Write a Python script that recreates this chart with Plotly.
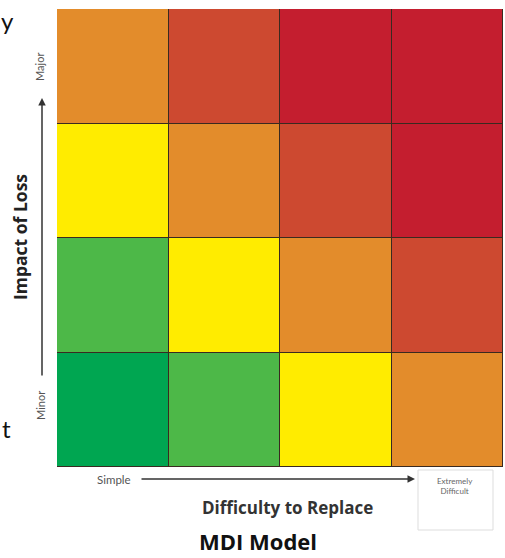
import plotly.graph_objects as go

# Data
difficulty = ["Simple", "Moderate", "Hard", "Extremely Difficult"]
impact = ["Minor", "Low", "High", "Major"]
# risk level per cell, rows bottom (Minor) -> top (Major)
risk = [
    [1, 2, 3, 4],
    [2, 3, 4, 5],
    [3, 4, 5, 6],
    [4, 5, 6, 6],
]
level_colors = ["#00A651", "#4DB848", "#FFEC00", "#E38C2B", "#CD4930", "#C41E2F"]

W, H = 505, 558
L, R, T, B = 57, 2, 9, 91
PW, PH = W - L - R, H - T - B

def px(x):
    return (x - L) / PW

def py(y):
    return (H - B - y) / PH

n = len(level_colors)
colorscale = []
for i, c in enumerate(level_colors):
    colorscale.append([i / n, c])
    colorscale.append([(i + 1) / n, c])

fig = go.Figure(go.Heatmap(
    z=risk, x=difficulty, y=impact,
    zmin=0.5, zmax=n + 0.5,
    colorscale=colorscale, showscale=False,
    xgap=1, ygap=1, hoverinfo="skip",
))

ann = []
gray = "#555555"
font = "Lato"
bfont = "Open Sans"
# vertical axis labels
ann.append(dict(x=px(40), y=py(67), text="Major", textangle=-90, showarrow=False,
                font=dict(size=11, color=gray, family=font)))
ann.append(dict(x=px(40), y=py(406), text="Minor", textangle=-90, showarrow=False,
                font=dict(size=11, color=gray, family=font)))
ann.append(dict(x=px(20), y=py(237), text="<b>Impact of Loss</b>", textangle=-90, showarrow=False,
                font=dict(size=17.5, color="#222222", family=bfont)))
ann.append(dict(x=px(42), y=py(98), text="", showarrow=True, arrowhead=2, arrowsize=1,
                arrowwidth=1.5, arrowcolor="#333333", ax=0, ay=279))
# horizontal axis labels
ann.append(dict(x=px(114), y=py(479), text="Simple", showarrow=False,
                font=dict(size=11.5, color=gray, family=font)))
ann.append(dict(x=px(415), y=py(479), text="", showarrow=True, arrowhead=2, arrowsize=1,
                arrowwidth=1.5, arrowcolor="#333333", ax=-275, ay=0))
ann.append(dict(x=px(455), y=py(486), text="Extremely<br>Difficult", showarrow=False,
                font=dict(size=8, color="#666666", family=font)))
ann.append(dict(x=px(287), y=py(507), text="<b>Difficulty to Replace</b>", showarrow=False,
                font=dict(size=17, color="#333333", family=bfont)))
ann.append(dict(x=px(258), y=py(541), text="<b>MDI Model</b>", showarrow=False,
                font=dict(size=22, color="#111111", family=bfont)))
# fragments of surrounding text
ann.append(dict(x=px(7), y=py(20), text="y", showarrow=False,
                font=dict(size=24, color="#111111", family=font)))
ann.append(dict(x=px(6), y=py(428), text="t", showarrow=False,
                font=dict(size=24, color="#111111", family=font)))
for a in ann:
    a.update(xref="paper", yref="paper", xanchor="center", yanchor="middle")

shapes = [dict(type="rect", xref="paper", yref="paper",
               x0=px(418), x1=px(493), y0=py(470), y1=py(530),
               line=dict(color="#DDDDDD", width=1))]

fig.update_layout(
    width=W, height=H,
    margin=dict(l=L, r=R, t=T, b=B),
    paper_bgcolor="white", plot_bgcolor="#3a2a20",
    xaxis=dict(showticklabels=False, showgrid=False, zeroline=False, ticks=""),
    yaxis=dict(showticklabels=False, showgrid=False, zeroline=False, ticks=""),
    annotations=ann, shapes=shapes,
)

fig.write_html("out.html", config={"displayModeBar": False},
               post_script="document.body.style.margin='0';document.body.style.overflow='hidden';")
